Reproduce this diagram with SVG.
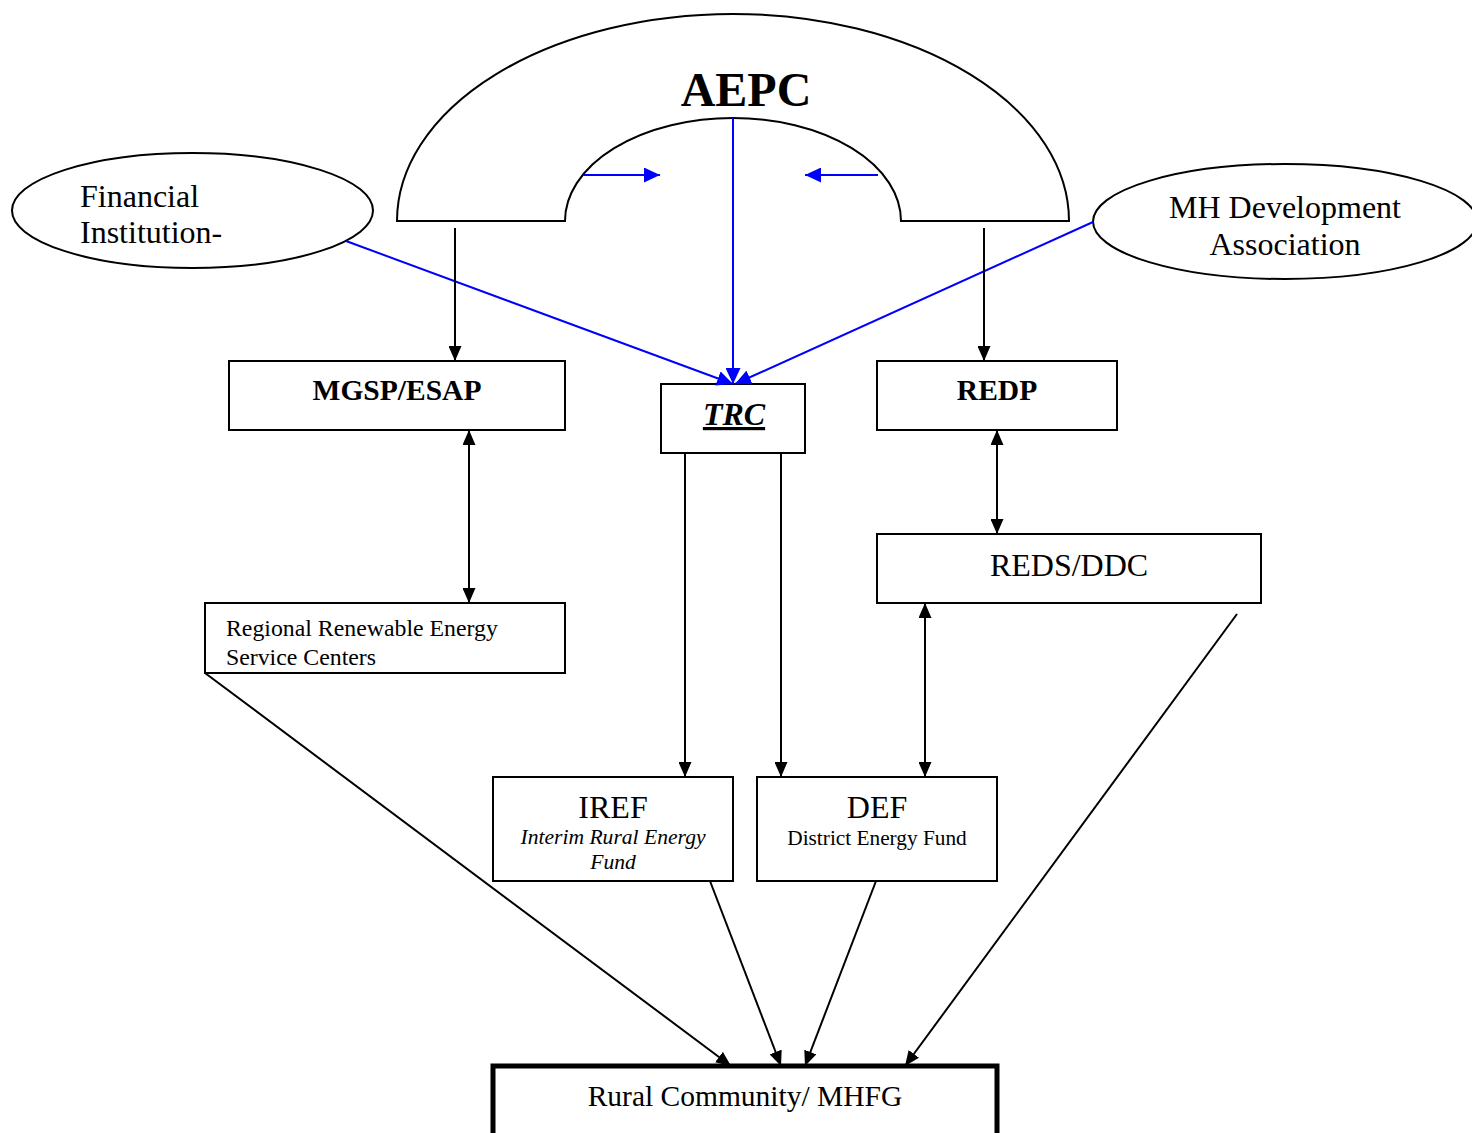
<svg xmlns="http://www.w3.org/2000/svg" width="1472" height="1133" viewBox="0 0 1472 1133">
<style>
.box{fill:#fff;stroke:#000;stroke-width:2}
.t{font-family:"Liberation Serif","Times New Roman",serif;fill:#000}
.k{stroke:#000;stroke-width:2;fill:none}
.b{stroke:#0000ff;stroke-width:2;fill:none}
</style>
<defs>
<marker id="ak" viewBox="0 0 15 13" refX="15" refY="6.5" markerWidth="15" markerHeight="13" markerUnits="userSpaceOnUse" orient="auto-start-reverse"><path d="M0,0 L15,6.5 L0,13 Z" fill="#000"/></marker>
<marker id="ab" viewBox="0 0 16 15" refX="16" refY="7.5" markerWidth="16" markerHeight="15" markerUnits="userSpaceOnUse" orient="auto"><path d="M0,0 L16,7.5 L0,15 Z" fill="#0000ff"/></marker>
<clipPath id="rrclip"><rect x="205" y="603" width="360" height="62"/></clipPath>
</defs>
<rect width="1472" height="1133" fill="#fff"/>

<g id="aepc">
<path d="M397,221 A336,207 0 0 1 1069,221 L901,221 A168,103 0 0 0 565,221 Z" fill="#fff" stroke="#000" stroke-width="2"/>
<text class="t" x="746" y="106" font-size="48" font-weight="bold" text-anchor="middle">AEPC</text>
</g>

<g id="financial">
<ellipse cx="192.5" cy="210.5" rx="180.5" ry="57.5" fill="#fff" stroke="#000" stroke-width="2"/>
<text class="t" x="80" y="207" font-size="32">Financial</text>
<text class="t" x="80" y="243" font-size="32">Institution-</text>
</g>

<g id="mhda">
<ellipse cx="1285" cy="221.5" rx="192" ry="57.5" fill="#fff" stroke="#000" stroke-width="2"/>
<text class="t" x="1285" y="218" font-size="32" text-anchor="middle">MH Development</text>
<text class="t" x="1285" y="255" font-size="32" text-anchor="middle">Association</text>
</g>

<g id="mgsp">
<rect class="box" x="229" y="361" width="336" height="69"/>
<text class="t" x="397" y="400" font-size="29.5" font-weight="bold" text-anchor="middle">MGSP/ESAP</text>
</g>

<g id="trc">
<rect class="box" x="661" y="384" width="144" height="69"/>
<text class="t" x="734" y="425" font-size="32" font-weight="bold" font-style="italic" text-anchor="middle" text-decoration="underline">TRC</text>
</g>

<g id="redp">
<rect class="box" x="877" y="361" width="240" height="69"/>
<text class="t" x="997" y="400" font-size="29.5" font-weight="bold" text-anchor="middle">REDP</text>
</g>

<g id="reds">
<rect class="box" x="877" y="534" width="384" height="69"/>
<text class="t" x="1069" y="576" font-size="32" text-anchor="middle">REDS/DDC</text>
</g>

<g id="rresc">
<rect class="box" x="205" y="603" width="360" height="70"/>
<g clip-path="url(#rrclip)">
<text class="t" x="226" y="636" font-size="23.8">Regional Renewable Energy</text>
<text class="t" x="226" y="665" font-size="23.8">Service Centers</text>
</g>
</g>

<g id="iref">
<rect class="box" x="493" y="777" width="240" height="104"/>
<text class="t" x="613" y="818" font-size="32" text-anchor="middle">IREF</text>
<text class="t" x="613" y="844" font-size="21.6" font-style="italic" text-anchor="middle">Interim Rural Energy</text>
<text class="t" x="613" y="869" font-size="21.6" font-style="italic" text-anchor="middle">Fund</text>
</g>

<g id="def">
<rect class="box" x="757" y="777" width="240" height="104"/>
<text class="t" x="877" y="818" font-size="32" text-anchor="middle">DEF</text>
<text class="t" x="877" y="845" font-size="21.3" text-anchor="middle">District Energy Fund</text>
</g>

<g id="rural">
<rect x="493" y="1066" width="504" height="72" fill="#fff" stroke="#000" stroke-width="5"/>
<text class="t" x="745" y="1106" font-size="29.5" text-anchor="middle">Rural Community/ MHFG</text>
</g>

<g id="connectors">
<line class="b" x1="583" y1="175" x2="660" y2="175" marker-end="url(#ab)"/>
<line class="b" x1="878" y1="175" x2="805" y2="175" marker-end="url(#ab)"/>
<line class="b" x1="733" y1="118" x2="733" y2="384" marker-end="url(#ab)"/>
<line class="b" x1="346" y1="241" x2="733" y2="384" marker-end="url(#ab)"/>
<line class="b" x1="1093" y1="222" x2="735" y2="384" marker-end="url(#ab)"/>
<line class="k" x1="455" y1="228" x2="455" y2="361" marker-end="url(#ak)"/>
<line class="k" x1="984" y1="228" x2="984" y2="361" marker-end="url(#ak)"/>
<line class="k" x1="469" y1="430" x2="469" y2="603" marker-start="url(#ak)" marker-end="url(#ak)"/>
<line class="k" x1="997" y1="430" x2="997" y2="534" marker-start="url(#ak)" marker-end="url(#ak)"/>
<line class="k" x1="925" y1="603" x2="925" y2="777" marker-start="url(#ak)" marker-end="url(#ak)"/>
<line class="k" x1="685" y1="453" x2="685" y2="777" marker-end="url(#ak)"/>
<line class="k" x1="781" y1="453" x2="781" y2="777" marker-end="url(#ak)"/>
<line class="k" x1="205" y1="673" x2="731" y2="1066" marker-end="url(#ak)"/>
<line class="k" x1="710" y1="881" x2="781" y2="1066" marker-end="url(#ak)"/>
<line class="k" x1="876" y1="881" x2="805" y2="1066" marker-end="url(#ak)"/>
<line class="k" x1="1237" y1="614" x2="905" y2="1066" marker-end="url(#ak)"/>
</g>
</svg>
